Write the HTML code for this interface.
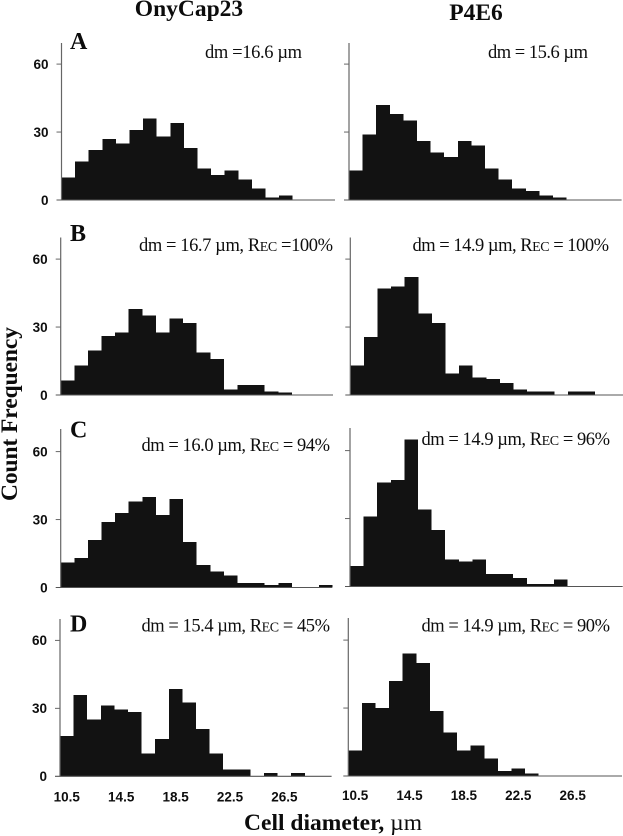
<!DOCTYPE html>
<html lang="en">
<head>
<meta charset="utf-8">
<title>Cell diameter histograms</title>
<style>
html,body{margin:0;padding:0;background:#fff;}
#figure{display:block;width:623px;height:836px;}
.tick-label{font-family:"Liberation Sans",sans-serif;font-weight:700;font-size:13.5px;fill:#0e0e0e;}
.title{font-family:"Liberation Serif",serif;font-weight:700;font-size:23.5px;fill:#0c0c0c;}
.panel-letter{font-family:"Liberation Serif",serif;font-weight:700;font-size:24px;fill:#0c0c0c;}
.note{font-family:"Liberation Serif",serif;font-size:18.5px;fill:#0e0e0e;}
.sc{font-size:14px;}
</style>
</head>
<body>
<svg id="figure" xmlns="http://www.w3.org/2000/svg" width="623" height="836" viewBox="0 0 623 836">
  <rect x="0" y="0" width="623" height="836" fill="#fff"/>

  <text class="title" x="189" y="16" text-anchor="middle">OnyCap23</text>
  <text class="title" x="476" y="20" text-anchor="middle">P4E6</text>

  <text class="title" transform="translate(17,501) rotate(-90)" textLength="174" lengthAdjust="spacing">Count Frequency</text>
  <text class="title" x="244" y="830" textLength="178" lengthAdjust="spacing">Cell diameter, <tspan font-weight="400">µm</tspan></text>

  <text class="panel-letter" x="70" y="49">A</text>
  <text class="panel-letter" x="70" y="241">B</text>
  <text class="panel-letter" x="70" y="437.5">C</text>
  <text class="panel-letter" x="70" y="631.5">D</text>

  <text class="note" x="205" y="58" textLength="97" lengthAdjust="spacing">dm =16.6 µm</text>
  <text class="note" x="488" y="58" textLength="100" lengthAdjust="spacing">dm = 15.6 µm</text>
  <text class="note" x="139" y="251" textLength="194" lengthAdjust="spacing">dm = 16.7 µm, R<tspan class="sc">EC</tspan> =100%</text>
  <text class="note" x="412.5" y="251" textLength="196.5" lengthAdjust="spacing">dm = 14.9 µm, R<tspan class="sc">EC</tspan> = 100%</text>
  <text class="note" x="141.5" y="451" textLength="188.5" lengthAdjust="spacing">dm = 16.0 µm, R<tspan class="sc">EC</tspan> = 94%</text>
  <text class="note" x="421.5" y="445" textLength="188.5" lengthAdjust="spacing">dm = 14.9 µm, R<tspan class="sc">EC</tspan> = 96%</text>
  <text class="note" x="141.5" y="631.5" textLength="188.5" lengthAdjust="spacing">dm = 15.4 µm, R<tspan class="sc">EC</tspan> = 45%</text>
  <text class="note" x="421.5" y="631.5" textLength="188.5" lengthAdjust="spacing">dm = 14.9 µm, R<tspan class="sc">EC</tspan> = 90%</text>

  <g id="plots"></g>
</svg>

<script>
// Data
const binCenters = [10.5, 11.5, 12.5, 13.5, 14.5, 15.5, 16.5, 17.5, 18.5, 19.5, 20.5, 21.5, 22.5, 23.5, 24.5, 25.5, 26.5, 27.5, 28.5, 29.5];
const yTickValues = [0, 30, 60];
const xTickValues = [10.5, 14.5, 18.5, 22.5, 26.5];
const xTickLabels = ['10.5', '14.5', '18.5', '22.5', '26.5'];

const countsAOnyCap = [10, 17, 22, 27, 25, 31, 36, 28, 34, 23, 14, 11, 13, 9, 5, 1, 2];
const countsAP4E6 = [13, 29, 42, 38, 35, 26, 21, 19, 26, 24, 14, 9, 5, 4, 2, 1];
const countsBOnyCap = [6.5, 13, 19.7, 26, 27.5, 38, 35, 27.5, 33.7, 31.8, 18.7, 16, 2.5, 4.5, 4.5, 1.5, 1];
const countsBP4E6 = [13, 25.5, 47, 48, 52, 36, 31.7, 9.6, 13, 7.8, 7, 5.3, 2.5, 1.5, 1.5, 0, 1.5, 1.5];
const countsCOnyCap = [11, 13, 21, 29, 33, 38, 40, 32, 39, 20, 10, 7, 5.3, 2, 2, 1, 2, 0, 0, 1];
const countsCP4E6 = [9, 31, 46, 47, 65, 34, 25, 12, 11, 12, 5.6, 5.6, 3.8, 1, 1, 3];
const countsDOnyCap = [17.7, 35.9, 25, 31.2, 29.4, 28.3, 10, 16.4, 38.6, 32.6, 20.8, 10, 3, 3, 0, 1.5, 0, 1.5];
const countsDP4E6 = [11.3, 32.2, 30, 41.9, 54, 49.8, 28.8, 19.2, 11.3, 13.5, 7.8, 2.3, 3.4, 1.2];

const BIN_WIDTH = 13.6;
const PX_PER_COUNT = 2.265;
const SVG_NS = 'http://www.w3.org/2000/svg';

const panelList = [
  { id: 'a-onycap23', counts: countsAOnyCap, left: 61.5, base: 200, top: 43, right: 335, xTicks: false, labels: true },
  { id: 'a-p4e6', counts: countsAP4E6, left: 349, base: 200, top: 43, right: 621.6, xTicks: false, labels: false },
  { id: 'b-onycap23', counts: countsBOnyCap, left: 60.7, base: 395, top: 237.5, right: 333, xTicks: false, labels: true },
  { id: 'b-p4e6', counts: countsBP4E6, left: 350.3, base: 395, top: 237.5, right: 623, xTicks: false, labels: false },
  { id: 'c-onycap23', counts: countsCOnyCap, left: 60.7, base: 587.5, top: 429, right: 332, xTicks: false, labels: true },
  { id: 'c-p4e6', counts: countsCP4E6, left: 350, base: 586.5, top: 428, right: 622.7, xTicks: false, labels: false },
  { id: 'd-onycap23', counts: countsDOnyCap, left: 60, base: 776.3, top: 619, right: 331.6, xTicks: true, labels: true },
  { id: 'd-p4e6', counts: countsDP4E6, left: 348.3, base: 776, top: 618, right: 622, xTicks: true, labels: false }
];

function xScale(panel, value) {
  return panel.left + BIN_WIDTH / 2 + (value - binCenters[0]) * BIN_WIDTH;
}
function yScale(panel, value) {
  return panel.base - value * PX_PER_COUNT;
}
function make(tag, attrs, parent) {
  const el = document.createElementNS(SVG_NS, tag);
  Object.keys(attrs).forEach(function (k) { el.setAttribute(k, attrs[k]); });
  parent.appendChild(el);
  return el;
}

const plots = document.getElementById('plots');
panelList.forEach(function (panel) {
  const group = make('g', {}, plots);
  
  

  panel.counts.forEach(function (count, i) {
    const cx = xScale(panel, binCenters[i]);
    const yTop = yScale(panel, count);
    const bar = make('rect', {
      x: cx - BIN_WIDTH / 2,
      y: yTop,
      width: BIN_WIDTH,
      height: Math.max(0, panel.base - yTop),
      fill: '#121212',
      'shape-rendering': 'crispEdges'
    }, group);
    
    
  });

  const yAxis = make('line', {
    x1: panel.left, x2: panel.left, y1: panel.top, y2: panel.base,
    stroke: '#666', 'stroke-width': 1.2
  }, group);
  
  

  const xAxis = make('line', {
    x1: panel.left - 5, x2: panel.right, y1: panel.base, y2: panel.base,
    stroke: '#555', 'stroke-width': 1.1
  }, group);
  
  

  yTickValues.forEach(function (value) {
    const y = yScale(panel, value);
    if (value !== 0) {
      const tick = make('line', {
        x1: panel.left - 5, x2: panel.left, y1: y, y2: y,
        stroke: '#666', 'stroke-width': 1
      }, group);
      
      
    }
    if (panel.labels) {
      const label = make('text', {
        x: panel.left - 13, y: y + 4.8, 'text-anchor': 'end', class: 'tick-label'
      }, group);
      label.textContent = String(value);
      
      
    }
  });

  if (panel.xTicks) {
    xTickValues.forEach(function (value, i) {
      const label = make('text', {
        x: xScale(panel, value), y: panel.base + (panel.labels ? 25 : 24),
        'text-anchor': 'middle', class: 'tick-label'
      }, group);
      label.textContent = xTickLabels[i];
      
      
    });
  }
});
</script>
</body>
</html>
